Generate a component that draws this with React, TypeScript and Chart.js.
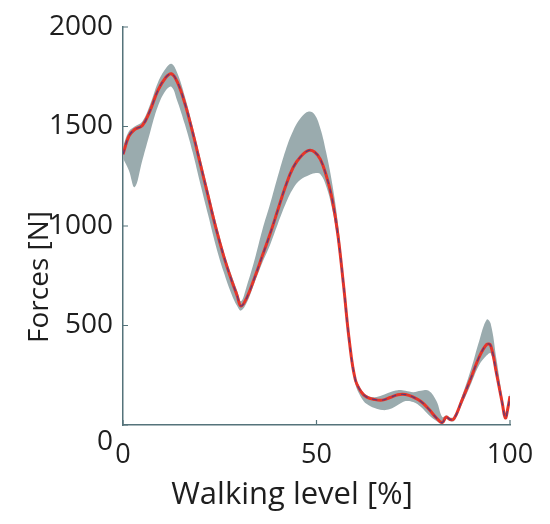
import React, { useEffect, useRef } from "react";
import { Chart, registerables } from "chart.js";

Chart.register(...registerables);

// Walking level [%]
const walkPct = [
  0, 1.5, 3, 5, 7, 9, 11, 12.5, 14, 16, 18, 20, 22, 24, 26, 28, 29.5, 30.5, 32, 34,
  36, 38, 40, 42, 44, 46, 48, 49.5, 51, 52.5, 54, 55.5, 57, 58.5, 60, 61.5, 63, 65, 67, 69,
  71, 73, 75, 77, 79, 81, 82.5, 83.5, 84.5, 85.5, 87.5, 90, 92, 94, 95, 96.5, 98, 98.8, 99.5, 100,
];
// Mean force [N]
const meanForce = [
  1360, 1450, 1485, 1505, 1580, 1680, 1745, 1765, 1725, 1615, 1470, 1310, 1150, 990, 850, 730, 650, 598, 640, 740,
  850, 960, 1080, 1200, 1295, 1350, 1380, 1372, 1335, 1255, 1140, 960, 700, 420, 230, 168, 140, 128, 125, 138,
  152, 153, 140, 118, 80, 35, 12, 40, 28, 30, 120, 240, 340, 405, 400, 260, 110, 35, 90, 145,
];
// Upper bound (mean + SD) [N]
const upperForce = [
  1400, 1475, 1500, 1525, 1610, 1720, 1790, 1815, 1770, 1650, 1500, 1340, 1180, 1020, 875, 755, 675, 622, 700, 830,
  980, 1110, 1250, 1380, 1480, 1545, 1575, 1560, 1490, 1370, 1220, 1020, 740, 450, 250, 180, 150, 140, 150, 165,
  175, 172, 165, 172, 172, 120, 40, 48, 38, 40, 140, 285, 420, 530, 510, 330, 140, 50, 100, 160,
];
// Lower bound (mean - SD) [N]
const lowerForce = [
  1340, 1280, 1195, 1330, 1470, 1600, 1680, 1700, 1630, 1510, 1370, 1210, 1055, 900, 770, 660, 598, 575, 615, 715,
  815, 905, 1010, 1110, 1190, 1235, 1255, 1265, 1260, 1200, 1090, 920, 670, 400, 210, 140, 105, 85, 75, 80,
  100, 120, 115, 90, 50, 20, 5, 30, 20, 20, 100, 210, 300, 350, 360, 240, 95, 30, 80, 130,
];

const yTicks = [0, 500, 1000, 1500, 2000];
const xTicks = [0, 50, 100];

const xTitle = "Walking level [%]";
const yTitle = "Forces [N]";

const FONT = "'Open Sans', 'DejaVu Sans', sans-serif";
const AXIS_COLOR = "#55737a";
const TEXT_COLOR = "#1e1e1e";

const pts = (ys: number[]) => walkPct.map((x, i) => ({ x, y: ys[i] }));

const decorPlugin = {
  id: "decor",
  afterDraw(chart: any) {
    const { ctx, scales, chartArea } = chart;
    const xs = scales.x;
    const ys = scales.y;
    ctx.save();
    // inward tick marks
    ctx.strokeStyle = AXIS_COLOR;
    ctx.lineWidth = 1.2;
    ctx.beginPath();
    yTicks.forEach((v) => {
      const py = ys.getPixelForValue(v);
      ctx.moveTo(chartArea.left, py);
      ctx.lineTo(chartArea.left + 5, py);
    });
    xTicks.forEach((v) => {
      const px = xs.getPixelForValue(v);
      ctx.moveTo(px, chartArea.bottom);
      ctx.lineTo(px, chartArea.bottom - 5);
    });
    ctx.stroke();
    // axis titles
    ctx.fillStyle = TEXT_COLOR;
    ctx.textAlign = "center";
    ctx.textBaseline = "alphabetic";
    ctx.font = `31px ${FONT}`;
    ctx.fillText(xTitle, chartArea.left + 169, chartArea.bottom + 79);
    ctx.font = `28px ${FONT}`;
    ctx.translate(chartArea.left - 83, chartArea.top + 250);
    ctx.rotate(-Math.PI / 2);
    ctx.textBaseline = "middle";
    ctx.fillText(yTitle, 0, 0);
    ctx.restore();
  },
};

export default function App() {
  const ref = useRef<HTMLCanvasElement | null>(null);

  useEffect(() => {
    if (!ref.current) return;
    const chart = new Chart(ref.current, {
      type: "line",
      data: {
        datasets: [
          {
            label: "mean-dash",
            data: pts(meanForce),
            borderColor: "rgba(60,60,140,0.8)",
            borderWidth: 1.2,
            borderDash: [5, 5],
            pointRadius: 0,
            fill: false,
            tension: 0.4,
            order: 0,
          },
          {
            label: "mean",
            data: pts(meanForce),
            borderColor: "#e5352a",
            borderWidth: 3,
            pointRadius: 0,
            fill: false,
            tension: 0.4,
            order: 1,
          },
          {
            label: "upper",
            data: pts(upperForce),
            borderWidth: 0,
            pointRadius: 0,
            backgroundColor: "#9aabae",
            fill: "+1",
            tension: 0.4,
            order: 2,
          },
          {
            label: "lower",
            data: pts(lowerForce),
            borderWidth: 0,
            pointRadius: 0,
            fill: false,
            tension: 0.4,
            order: 3,
          },
        ],
      },
      options: {
        animation: false,
        responsive: true,
        maintainAspectRatio: false,
        layout: { padding: { top: 27, right: 40, left: 0, bottom: 0 } },
        plugins: { legend: { display: false }, tooltip: { enabled: false } },
        scales: {
          x: {
            type: "linear",
            min: 0,
            max: 100,
            afterBuildTicks: (s: any) => {
              s.ticks = xTicks.map((v) => ({ value: v }));
            },
            afterFit: (s: any) => {
              s.height = 99;
            },
            grid: { display: false },
            border: { display: true, color: AXIS_COLOR, width: 1.5 },
            ticks: {
              color: TEXT_COLOR,
              font: { family: FONT, size: 27 },
              padding: 6,
              maxRotation: 0,
            },
          },
          y: {
            min: 0,
            max: 2000,
            afterBuildTicks: (s: any) => {
              s.ticks = yTicks.map((v) => ({ value: v }));
            },
            afterFit: (s: any) => {
              s.width = 123;
            },
            grid: { display: false },
            border: { display: true, color: AXIS_COLOR, width: 1.5 },
            ticks: {
              color: TEXT_COLOR,
              font: { family: FONT, size: 28 },
              padding: 2,
              callback: (v: any) => (Number(v) === 0 ? ["", "0"] : String(v)),
            },
          },
        },
      },
      plugins: [decorPlugin],
    });
    return () => chart.destroy();
  }, []);

  return (
    <div
      style={{
        position: "absolute",
        left: 0,
        top: 0,
        width: 550,
        height: 524,
        background: "#ffffff",
      }}
    >
      <canvas ref={ref} />
    </div>
  );
}
